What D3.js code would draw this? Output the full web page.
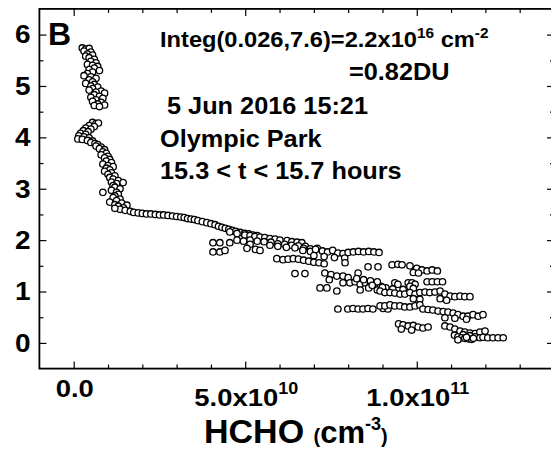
<!DOCTYPE html>
<html><head><meta charset="utf-8">
<script src="https://cdn.jsdelivr.net/npm/d3@7"></script>
<style>
body{margin:0;background:#fff}
svg{display:block}
text{font-family:"Liberation Sans",Arial,sans-serif;font-weight:bold;fill:#000}
</style>
</head><body><svg id="c" width="551" height="450"></svg>
<script>
// HCHO in units of 1e10 cm^-3, altitude in km
const upperLayer = [[0.25,5.74],[0.35,5.72],[0.45,5.73],[0.30,5.68],[0.50,5.66],[0.40,5.62],[0.55,5.60],[0.35,5.58],[0.45,5.55],[0.60,5.52],[0.50,5.48],[0.65,5.45],[0.40,5.42],[0.55,5.40],[0.70,5.38],[0.60,5.35],[0.45,5.32],[0.75,5.30],[0.55,5.27],[0.40,5.24],[0.30,5.20],[0.50,5.18],[0.65,5.15],[0.45,5.12],[0.55,5.08],[0.35,5.05],[0.60,5.03],[0.50,5.00],[0.70,4.98],[0.55,4.95],[0.45,4.92],[0.80,4.90],[0.65,4.88],[0.90,4.86],[0.60,4.83],[0.75,4.80],[0.50,4.78],[0.85,4.76],[0.65,4.73],[0.55,4.70],[0.80,4.68],[0.70,4.65],[0.90,4.63],[0.60,4.62],[0.75,4.60]];
const lowerFreeTrop = [[0.55,4.29],[0.65,4.27],[0.72,4.28],[0.45,4.23],[0.60,4.21],[0.35,4.18],[0.50,4.16],[0.28,4.13],[0.42,4.11],[0.20,4.08],[0.35,4.06],[0.15,4.03],[0.30,4.01],[0.45,3.99],[0.12,3.97],[0.25,3.96],[0.40,3.94],[0.55,3.93],[0.50,3.90],[0.62,3.88],[0.70,3.86],[0.65,3.83],[0.80,3.81],[0.75,3.78],[0.90,3.76],[0.85,3.72],[0.95,3.69],[0.80,3.66],[1.00,3.63],[0.90,3.60],[1.05,3.57],[0.95,3.54],[1.10,3.51],[0.85,3.48],[1.00,3.45],[1.15,3.43],[0.95,3.40],[1.05,3.37],[0.90,3.34],[1.10,3.31],[1.00,3.28],[1.20,3.25],[1.05,3.22],[1.15,3.19],[1.30,3.16],[1.10,3.13],[1.25,3.10],[1.44,3.12],[1.15,3.06],[1.20,3.03],[1.35,3.00],[1.10,2.97],[0.85,2.93],[1.25,2.93],[1.30,2.89],[1.20,2.86],[1.15,2.83],[1.35,2.80],[1.25,2.77],[1.05,2.74],[1.40,2.72],[1.20,2.69],[1.30,2.66],[1.55,2.68],[1.45,2.63],[1.35,2.60],[1.50,2.58],[1.65,2.56],[1.20,2.62]];
const transition = [[1.75,2.54],[1.88,2.53],[2.00,2.52],[2.12,2.51],[2.25,2.51],[2.38,2.50],[2.50,2.49],[2.62,2.49],[2.75,2.48],[2.88,2.47],[3.00,2.46],[3.12,2.45],[3.22,2.44],[3.32,2.42],[3.42,2.41],[3.52,2.40],[3.62,2.38],[3.75,2.36],[3.88,2.34],[4.00,2.32],[4.12,2.30],[4.22,2.27],[4.32,2.25],[4.42,2.23],[4.52,2.21],[4.62,2.19],[4.72,2.17],[4.85,2.15],[4.98,2.13],[5.10,2.12],[5.22,2.10],[5.35,2.09]];
const midLayer = [[4.55,2.16],[4.76,2.13],[4.99,2.10],[5.14,2.09],[5.28,2.07],[5.43,2.06],[5.57,2.05],[5.72,2.03],[5.87,2.02],[6.01,2.00],[6.22,1.99],[6.36,1.97],[6.51,1.96],[6.65,1.95],[5.14,2.00],[5.35,1.98],[5.55,1.97],[5.75,1.96],[5.95,1.93],[6.15,1.92],[6.35,1.90],[6.55,1.89],[6.75,1.88],[5.72,1.90],[5.95,1.88],[6.20,1.86],[6.45,1.85],[6.70,1.84],[6.90,1.83],[7.10,1.84],[6.68,1.80],[6.90,1.78],[7.05,1.82],[7.25,1.79],[7.40,1.77],[7.55,1.80],[7.70,1.75],[7.85,1.74],[8.00,1.76],[8.15,1.77],[8.30,1.78],[8.45,1.77],[8.60,1.78],[8.75,1.77],[8.90,1.76],[5.92,1.64],[6.10,1.62],[6.25,1.63],[6.40,1.64],[6.55,1.63],[6.70,1.61],[6.85,1.59],[7.00,1.57],[7.15,1.56],[7.30,1.54],[7.00,1.70],[7.30,1.68],[7.60,1.66],[7.90,1.65],[4.06,1.95],[4.26,1.95],[4.06,1.77],[4.26,1.77],[4.41,1.80],[4.55,1.95],[4.76,2.00],[4.95,1.98],[5.14,1.92],[5.05,1.84],[5.30,1.82],[5.43,1.80],[7.91,1.56],[8.58,1.48],[8.87,1.48],[6.45,1.35],[6.74,1.35],[8.29,1.36]];
const boundaryLayer = [[7.32,1.36],[7.50,1.33],[7.67,1.30],[7.85,1.30],[8.00,1.27],[7.45,1.23],[7.85,1.17],[7.18,1.07],[7.38,1.07],[7.67,1.01],[8.05,1.17],[8.20,1.19],[8.35,1.14],[8.50,1.17],[8.65,1.14],[8.80,1.17],[8.95,1.10],[9.10,1.07],[8.25,1.25],[8.45,1.23],[8.65,1.21],[8.85,1.19],[8.35,1.03],[8.60,1.07],[8.85,1.03],[9.05,1.00],[7.70,0.66],[7.99,0.66],[8.14,0.67],[8.29,0.66],[8.43,0.66],[8.58,0.67],[8.72,0.66],[9.02,0.67],[9.16,0.66],[9.28,1.52],[9.45,1.53],[9.57,1.52],[9.80,1.50],[10.00,1.45],[10.15,1.42],[10.30,1.40],[10.45,1.42],[10.60,1.40],[9.90,1.37],[10.05,1.36],[9.36,1.17],[9.45,1.14],[9.75,1.17],[9.86,1.17],[9.95,1.14],[9.80,1.10],[10.30,1.19],[10.45,1.19],[10.60,1.19],[10.75,1.19],[8.70,1.12],[9.00,1.08],[9.30,1.05],[9.60,1.04],[9.90,1.06],[8.93,1.01],[9.07,0.98],[9.22,0.98],[9.36,0.97],[9.51,0.95],[9.65,0.95],[9.80,0.98],[9.95,0.95],[10.09,0.98],[10.24,0.99],[10.38,0.98],[10.53,0.99],[10.68,1.01],[10.82,0.95],[10.97,0.91],[11.11,0.90],[11.26,0.91],[11.40,0.90],[11.55,0.90],[9.90,0.86],[10.09,0.85],[10.68,0.86],[10.87,0.83],[8.93,0.72],[9.07,0.72],[9.22,0.74],[9.36,0.72],[9.51,0.72],[9.65,0.70],[9.80,0.70],[9.95,0.72],[10.09,0.74],[10.18,0.66],[10.33,0.65],[10.47,0.64],[10.62,0.62],[10.77,0.61],[10.91,0.60],[11.06,0.58],[11.20,0.55],[11.35,0.52],[11.49,0.52],[11.64,0.55],[11.79,0.52],[11.93,0.55],[10.82,0.49],[11.11,0.48],[11.45,0.46],[9.47,0.37],[9.60,0.35],[9.75,0.33],[9.90,0.34],[10.04,0.31],[10.18,0.29],[10.33,0.31],[9.55,0.27],[9.85,0.25],[10.82,0.33],[10.97,0.31],[11.11,0.27],[11.26,0.23],[11.40,0.21],[11.55,0.19],[11.70,0.18],[11.84,0.21],[11.99,0.23],[11.35,0.16],[11.55,0.14],[11.70,0.12],[11.84,0.10],[11.10,0.15],[11.20,0.12],[11.30,0.10],[11.40,0.09],[11.50,0.08],[11.60,0.07],[11.20,0.06],[11.45,0.11],[11.65,0.09],[11.93,0.11],[12.07,0.10],[12.22,0.10],[12.37,0.10],[12.52,0.10]];

const xMajorTicks = [0, 5, 10];
const xTickBase = ["0.0", "5.0x10", "1.0x10"];
const xTickExp = ["", "10", "11"];
const yMajorTicks = [0, 1, 2, 3, 4, 5, 6];
const panelLabel = "B";
const infoLines = [" 5 Jun 2016 15:21", "Olympic Park", "15.3 < t < 15.7 hours"];

const svg = d3.select("#c");
const L = 39.4, R = 554, T = 8.9, B = 368.6;
const x = d3.scaleLinear().domain([-1, 14]).range([L, R]);
const y = d3.scaleLinear().domain([-0.5, 6.5]).range([B, T]);

const xMinor = d3.range(0, 14).filter(v => !xMajorTicks.includes(v));
const yMinor = d3.range(0, 13).map(i => i * 0.5).filter(v => !yMajorTicks.includes(v));

function ax(gen, tf, vals, size) {
  const g = svg.append("g").attr("transform", tf)
    .call(gen.tickValues(vals).tickSize(size).tickFormat(""));
  g.select(".domain").remove();
  g.selectAll("line").attr("stroke", "#000").attr("stroke-width", 1.2);
}
ax(d3.axisBottom(x), `translate(0,${B})`, xMinor, -4);
ax(d3.axisBottom(x), `translate(0,${B})`, xMajorTicks, -7);
ax(d3.axisTop(x), `translate(0,${T})`, xMinor, -4);
ax(d3.axisTop(x), `translate(0,${T})`, xMajorTicks, -7);
ax(d3.axisLeft(y), `translate(${L},0)`, yMinor, -4);
ax(d3.axisLeft(y), `translate(${L},0)`, yMajorTicks, -7);
ax(d3.axisRight(y), `translate(${R},0)`, yMinor, -4);
ax(d3.axisRight(y), `translate(${R},0)`, yMajorTicks, -7);

svg.append("rect").attr("x", L).attr("y", T).attr("width", R - L).attr("height", B - T)
  .attr("fill", "none").attr("stroke", "#000").attr("stroke-width", 1.8);

// y tick labels
svg.selectAll(".yl").data(yMajorTicks).enter().append("text")
  .attr("transform", d => `translate(30.5,${y(d) + 8.8}) scale(1.12,1)`)
  .attr("text-anchor", "end").style("font-size", "25px").text(d => d);

// x tick labels
xMajorTicks.forEach((v, i) => {
  const t = svg.append("text").attr("transform", `translate(${x(v) + 1},${xTickExp[i] ? 406 : 397}) scale(1.12,1)`)
    .attr("text-anchor", "middle").style("font-size", "24.5px");
  t.append("tspan").text(xTickBase[i]);
  if (xTickExp[i]) t.append("tspan").attr("dy", -12).style("font-size", "16px").text(xTickExp[i]);
});

// axis title
const title = svg.append("text").attr("x", 204).attr("y", 443).style("font-size", "34px");
title.append("tspan").text("HCHO ");
title.append("tspan").style("font-size", "20px").text("(");
title.append("tspan").style("font-size", "31px").text("cm");
title.append("tspan").attr("dy", -13).style("font-size", "18px").text("-3");
title.append("tspan").attr("dy", 13).style("font-size", "20px").text(")");

// panel label
svg.append("text").attr("x", 48).attr("y", 45).style("font-size", "32px").text(panelLabel);

// annotations
const a1 = svg.append("text").attr("transform", "translate(160,47) scale(1.1,1)").style("font-size", "21.5px");
a1.append("tspan").text("Integ(0.026,7.6)=2.2x10");
a1.append("tspan").attr("dy", -9).style("font-size", "14px").text("16");
a1.append("tspan").attr("dy", 9).text(" cm");
a1.append("tspan").attr("dy", -9).style("font-size", "14px").text("-2");
svg.append("text").attr("transform", "translate(349,80) scale(1.1,1)").style("font-size", "23px").text("=0.82DU");
infoLines.forEach((s, i) => {
  svg.append("text").attr("transform", `translate(${160},${[114,147,179][i]}) scale(1.1,1)`)
    .style("font-size", "23px").style("white-space", "pre").attr("xml:space", "preserve").text(s);
});

// points
const allPts = [].concat(upperLayer, lowerFreeTrop, transition, midLayer, boundaryLayer);
svg.append("g").selectAll("circle").data(allPts).enter().append("circle")
  .attr("cx", d => x(d[0])).attr("cy", d => y(d[1])).attr("r", 3.2)
  .attr("fill", "#fff").attr("stroke", "#000").attr("stroke-width", 1.3);
</script></body></html>
